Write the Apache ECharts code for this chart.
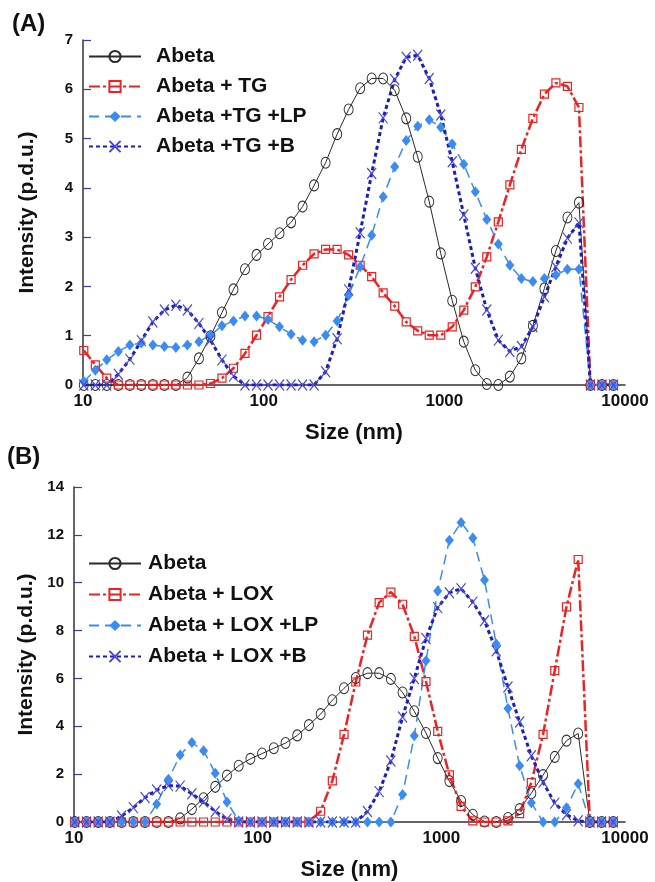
<!DOCTYPE html>
<html>
<head>
<meta charset="utf-8">
<title>DLS size distributions</title>
<script src="https://cdn.jsdelivr.net/npm/echarts@6/dist/echarts.min.js"></script>
<style>
  html, body { margin: 0; padding: 0; background: #fff; }
  #chart { width: 655px; height: 882px; }
</style>
</head>
<body>
<div id="chart"></div>
<script>
// Size bins (nm), shared by every distribution
const sizes = [10.10, 11.70, 13.54, 15.69, 18.17, 21.04, 24.36, 28.21, 32.67, 37.84,
  43.82, 50.75, 58.77, 68.06, 78.82, 91.28, 105.7, 122.4, 141.8, 164.2,
  190.1, 220.2, 255.0, 295.3, 342.0, 396.1, 458.7, 531.2, 615.1, 712.4,
  825.0, 955.4, 1106, 1281, 1484, 1718, 1990, 2305, 2669, 3091,
  3580, 4145, 4801, 5560, 6439, 7456, 8635];

// Panel A: Abeta with TG
const abeta = [0, 0, 0, 0, 0, 0, 0, 0, 0, 0.15,
  0.54, 0.99, 1.47, 1.94, 2.35, 2.64, 2.86, 3.08, 3.30, 3.62,
  4.05, 4.51, 5.09, 5.59, 6.02, 6.22, 6.22, 5.98, 5.41, 4.63,
  3.72, 2.67, 1.71, 0.88, 0.30, 0.02, 0, 0.17, 0.54, 1.20,
  1.96, 2.72, 3.40, 3.70, 0, 0, 0];
const abetaTG = [0.70, 0.41, 0.14, 0, 0, 0, 0, 0, 0, 0,
  0, 0.03, 0.14, 0.34, 0.64, 1.01, 1.39, 1.79, 2.14, 2.43,
  2.66, 2.75, 2.75, 2.64, 2.43, 2.20, 1.87, 1.60, 1.28, 1.10,
  1.01, 1.01, 1.18, 1.52, 1.99, 2.60, 3.31, 4.06, 4.78, 5.41,
  5.90, 6.13, 6.06, 5.63, 0, 0, 0];
const abetaTGLP = [0.07, 0.30, 0.51, 0.68, 0.81, 0.85, 0.81, 0.78, 0.76, 0.81,
  0.88, 1.01, 1.20, 1.30, 1.40, 1.40, 1.33, 1.18, 1.03, 0.91,
  0.88, 1.01, 1.30, 1.82, 2.40, 3.04, 3.82, 4.43, 4.96, 5.25,
  5.38, 5.23, 4.89, 4.48, 3.92, 3.36, 2.86, 2.43, 2.16, 2.10,
  2.16, 2.23, 2.35, 2.35, 0, 0, 0];
const abetaTGB = [0, 0, 0, 0.22, 0.52, 0.90, 1.28, 1.52, 1.62, 1.52,
  1.25, 0.91, 0.51, 0.18, 0, 0, 0, 0, 0, 0,
  0, 0.27, 0.94, 1.93, 3.09, 4.29, 5.42, 6.20, 6.65, 6.69,
  6.22, 5.48, 4.53, 3.45, 2.37, 1.52, 0.91, 0.68, 0.78, 1.18,
  1.79, 2.40, 2.98, 3.29, 0, 0, 0];

// Panel B: Abeta with LOX
const abetaLOX = [0, 0, 0, 0, 0, 0, 0, 0, 0, 0,
  0, 0, 0, 0, 0, 0, 0, 0, 0, 0,
  0, 0.45, 1.72, 3.66, 5.85, 7.81, 9.17, 9.61, 9.10, 7.76,
  5.87, 3.79, 1.97, 0.65, 0.05, 0, 0, 0.05, 0.35, 1.65,
  3.66, 6.33, 8.99, 10.97, 0, 0, 0];
const abetaLOXLP = [0, 0, 0, 0, 0, 0, 0, 0.75, 1.79, 2.80,
  3.32, 2.98, 2.04, 0.84, 0.05, 0, 0, 0, 0, 0,
  0, 0, 0, 0, 0, 0, 0, 0, 1.15, 3.60,
  6.74, 9.65, 11.77, 12.52, 11.87, 10.11, 7.44, 4.74, 2.35, 0.80,
  0, 0, 0.60, 1.60, 0, 0, 0];
const abetaLOXB = [0, 0, 0, 0, 0.25, 0.60, 1.02, 1.34, 1.52, 1.50,
  1.18, 0.84, 0.44, 0.12, 0, 0, 0, 0, 0, 0,
  0, 0, 0, 0, 0, 0.44, 1.27, 2.55, 4.39, 6.00,
  7.67, 8.96, 9.58, 9.75, 9.19, 8.41, 7.16, 5.64, 4.18, 2.77,
  1.66, 0.79, 0.30, 0.05, 0, 0, 0];

// Axis labels
const xTicks = [10, 100, 1000, 10000];
const yMaxA = 7, yStepA = 1;
const yMaxB = 14, yStepB = 2;
const namesA = ['Abeta', 'Abeta + TG', 'Abeta +TG +LP', 'Abeta +TG +B'];
const namesB = ['Abeta', 'Abeta + LOX', 'Abeta + LOX +LP', 'Abeta + LOX +B'];

const FONT = '"Liberation Sans", Arial, sans-serif';
const CLEAR = 'rgba(0,0,0,0)';
const crossPath = 'path://M0,0L10,10M10,0L0,10';

// Visual style per sample type
const looks = {
  plain: { line: { color: '#2a2a2a', width: 1, type: 'solid' },
           symbol: 'circle', size: [9, 11],
           item: { color: CLEAR, borderColor: '#2a2a2a', borderWidth: 1 } },
  enzyme: { line: { color: '#ee2222', width: 2.5, type: [11, 3, 3, 3] },
            symbol: 'rect', size: 8,
            item: { color: CLEAR, borderColor: '#ee2222', borderWidth: 1.2 } },
  lp: { line: { color: '#3b8cf2', width: 1.5, type: [10, 6] },
        symbol: 'diamond', size: [9, 11],
        item: { color: '#3b8cf2', borderColor: '#3b8cf2', borderWidth: 0 } },
  bb: { line: { color: '#1c1cbf', width: 3, type: [4, 3] },
        symbol: crossPath, size: [9, 11],
        item: { color: CLEAR, borderColor: '#4646dc', borderWidth: 1.2 } }
};

function points(vals) {
  return sizes.map((s, i) => [s, vals[i]]);
}

function makeSeries(name, vals, look, panel) {
  return {
    name: name,
    type: 'line',
    xAxisIndex: panel,
    yAxisIndex: panel,
    data: points(vals),
    showAllSymbol: true,
    symbol: look.symbol,
    symbolSize: look.size,
    lineStyle: look.line,
    itemStyle: look.item,
    color: look.line.color,
    emphasis: { disabled: true },
    animation: false
  };
}

const kinds = ['plain', 'enzyme', 'lp', 'bb'];
const valsA = [abeta, abetaTG, abetaTGLP, abetaTGB];
const valsB = [abeta, abetaLOX, abetaLOXLP, abetaLOXB];

const series = [];
namesA.forEach((n, i) => series.push(makeSeries(n, valsA[i], looks[kinds[i]], 0)));
namesB.forEach((n, i) => series.push(makeSeries(n, valsB[i], looks[kinds[i]], 1)));

function xAxisFor(grid) {
  return {
    type: 'log', logBase: 10, gridIndex: grid, min: xTicks[0], max: xTicks[xTicks.length - 1],
    axisLine: { lineStyle: { color: '#333', width: 1.5 } },
    axisTick: { show: false },
    splitLine: { show: false },
    axisLabel: { fontFamily: FONT, fontSize: 17, fontWeight: 'bold', color: '#111', margin: 8,
                 formatter: v => String(Math.round(v)) },
    name: 'Size (nm)', nameLocation: 'middle', nameGap: 37,
    nameTextStyle: { fontFamily: FONT, fontSize: 22, fontWeight: 'bold', color: '#111' }
  };
}

function yAxisFor(grid, max, step, gap) {
  return {
    type: 'value', gridIndex: grid, min: 0, max: max, interval: step,
    axisLine: { show: true, lineStyle: { color: '#333', width: 1.5 } },
    axisTick: { show: true, inside: true, length: 8, lineStyle: { color: '#3838c4', width: 1.2 } },
    splitLine: { show: false },
    axisLabel: { fontFamily: FONT, fontSize: 15, fontWeight: 'bold', color: '#111', margin: 10 },
    name: 'Intensity (p.d.u.)', nameLocation: 'middle', nameGap: gap, nameRotate: 90,
    nameTextStyle: { fontFamily: FONT, fontSize: 21, fontWeight: 'bold', color: '#111' }
  };
}

function legendFor(names, top, gap, pad) {
  return {
    orient: 'vertical', left: 88, top: top, padding: 0,
    itemWidth: 52, itemHeight: 14, itemGap: gap,
    selectedMode: false,
    textStyle: { fontFamily: FONT, fontSize: 21, fontWeight: 'bold', color: '#111', padding: [0, 0, 0, pad] },
    data: names
  };
}

const chart = echarts.init(document.getElementById('chart'), null, { renderer: 'canvas' });
chart.setOption({
  backgroundColor: '#fff',
  animation: false,
  grid: [
    { left: 83, top: 40, width: 542, height: 345 },
    { left: 74, top: 487, width: 551, height: 337 }
  ],
  xAxis: [xAxisFor(0), xAxisFor(1)],
  yAxis: [yAxisFor(0, yMaxA, yStepA, 45), yAxisFor(1, yMaxB, yStepB, 35)],
  legend: [legendFor(namesA, 46, 9, 10), legendFor(namesB, 553, 10, 2)],
  graphic: [
    { type: 'text', left: 12, top: 12, style: { text: '(A)', font: 'bold 24px ' + FONT, fill: '#111' } },
    { type: 'text', left: 7, top: 445, style: { text: '(B)', font: 'bold 24px ' + FONT, fill: '#111' } }
  ],
  series: series
});
</script>
</body>
</html>
